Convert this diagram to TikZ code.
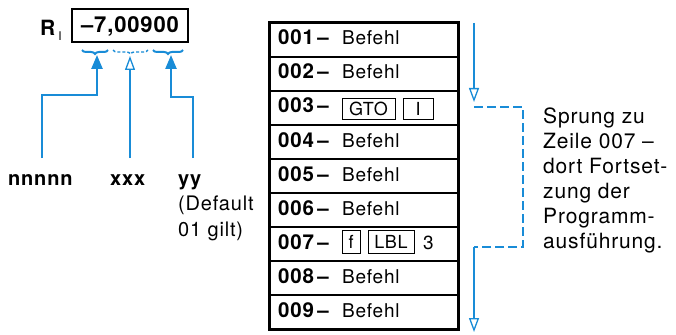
\documentclass[tikz,border=0pt]{standalone}
\usepackage{fontspec}
\setmainfont[LetterSpace=4]{TeX Gyre Heros}
\usetikzlibrary{arrows.meta,decorations.pathreplacing}
\definecolor{hpblue}{RGB}{25,140,215}
\begin{document}
\begin{tikzpicture}[x=1pt,y=-1pt,
  blueline/.style={draw=hpblue, line width=2.4pt},
  thinblue/.style={draw=hpblue, line width=1.3pt},
  flowdash/.style={thinblue, dash pattern=on 9pt off 4pt},
  bracestyle/.style={draw=hpblue, line width=2pt, decorate, decoration={brace,amplitude=4pt,mirror}},
  rowbox/.style={draw, line width=1.6pt, minimum width=188pt, minimum height=34pt, inner sep=0},
  numtxt/.style={anchor=base west, inner sep=0, font=\fontsize{20.5}{20.5}\selectfont\bfseries},
  cmdtxt/.style={anchor=base west, inner sep=0, font=\fontsize{19}{19}\selectfont},
  keybox/.style={draw, line width=0.8pt, inner sep=0, minimum height=21pt, font=\fontsize{18}{18}\selectfont},
  lbl/.style={anchor=base west, inner sep=0, font=\fontsize{20}{20}\selectfont},
  filledtip/.style={-{Triangle[length=14pt,width=11pt]}},
  opentip/.style={-{Triangle[open,length=14pt,width=10pt]}}
]
\useasboundingbox (0,0) rectangle (676,334);
\fill[white] (0,0) rectangle (676,334);

% register display
\node[draw, line width=2pt, minimum width=116pt, minimum height=33pt, inner sep=0,
      font=\fontsize{22}{22}\selectfont\bfseries] (reg) at (130,26) {–7,00900};
\node[lbl, font=\fontsize{21}{21}\selectfont\bfseries] (rlab) at (40,36)
  {R\hspace{3pt}\raisebox{-5pt}{\fontsize{12}{12}\selectfont\mdseries I}};

% braces
\draw[bracestyle] (82,50) -- (108,50);
\draw[bracestyle, line width=1.4pt, dash pattern=on 3pt off 2pt] (113,50) -- (148,50);
\draw[bracestyle] (153,50) -- (183,50);

% labels
\node[lbl, font=\fontsize{20}{20}\selectfont\bfseries] (nlab) at (8,185) {nnnnn};
\node[lbl, font=\fontsize{20}{20}\selectfont\bfseries] (xlab) at (110,185) {xxx};
\node[lbl, font=\fontsize{20}{20}\selectfont\bfseries] (ylab) at (178,185) {yy};
\node[lbl] (d1) at (178,210) {(Default};
\node[lbl] (d2) at (178,236) {01 gilt)};

% arrows to register
\coordinate (s1) at (42,158);  \coordinate (c1) at (97,95);  \coordinate (a1) at (97,55);
\coordinate (s2) at (130,158); \coordinate (a2) at (130,56);
\coordinate (s3) at (193,158); \coordinate (c3) at (171,97); \coordinate (a3) at (171,55);
\draw[blueline, filledtip] (s1) |- (c1) -- (a1);
\draw[thinblue, opentip] (s2) -- (a2);
\draw[blueline, filledtip] (s3) |- (c3) -- (a3);

% program table
\foreach \i in {1,...,9} {
  \node[rowbox] (r\i) at (364,{23+34*(\i-1)+17}) {};
  \node[numtxt] (n\i) at (278,{23+34*(\i-1)+22}) {00\i\,–};
}
\foreach \i in {1,2,4,5,6,8,9} {
  \node[cmdtxt] (b\i) at (342,{23+34*(\i-1)+22}) {Befehl};
}
\draw[line width=2.4pt] (r1.north west) rectangle (r9.south east);

% keys
\node[keybox, minimum width=53pt] (gto) at (368.5,108.5) {GTO};
\node[keybox, minimum width=30pt] (ikey) at (418,108.5) {I};
\node[keybox, minimum width=18pt, minimum height=23pt] (fkey) at (351,241.5) {f};
\node[keybox, minimum width=46pt, minimum height=23pt] (lbl) at (391,241.5) {LBL};
\node[cmdtxt] (three) at (423,249) {3};

% jump flow
\coordinate (f0) at (474,23);
\coordinate (f1) at (474,102);
\coordinate (f2) at (474,107);
\coordinate (f4) at (523,247);
\coordinate (f5) at (474,247);
\coordinate (f6) at (474,332);
\draw[thinblue, opentip] (f0) -- (f1);
\draw[flowdash] (f2) -| (f4) -- (f5);
\draw[thinblue, opentip] (f5) -- (f6);

\node[anchor=north west, inner sep=0, align=left, font=\fontsize{21}{25}\selectfont] (note) at (543,108)
  {Sprung zu\\Zeile 007 –\\dort Fortset-\\zung der\\Programm-\\ausführung.};
\end{tikzpicture}
\end{document}
